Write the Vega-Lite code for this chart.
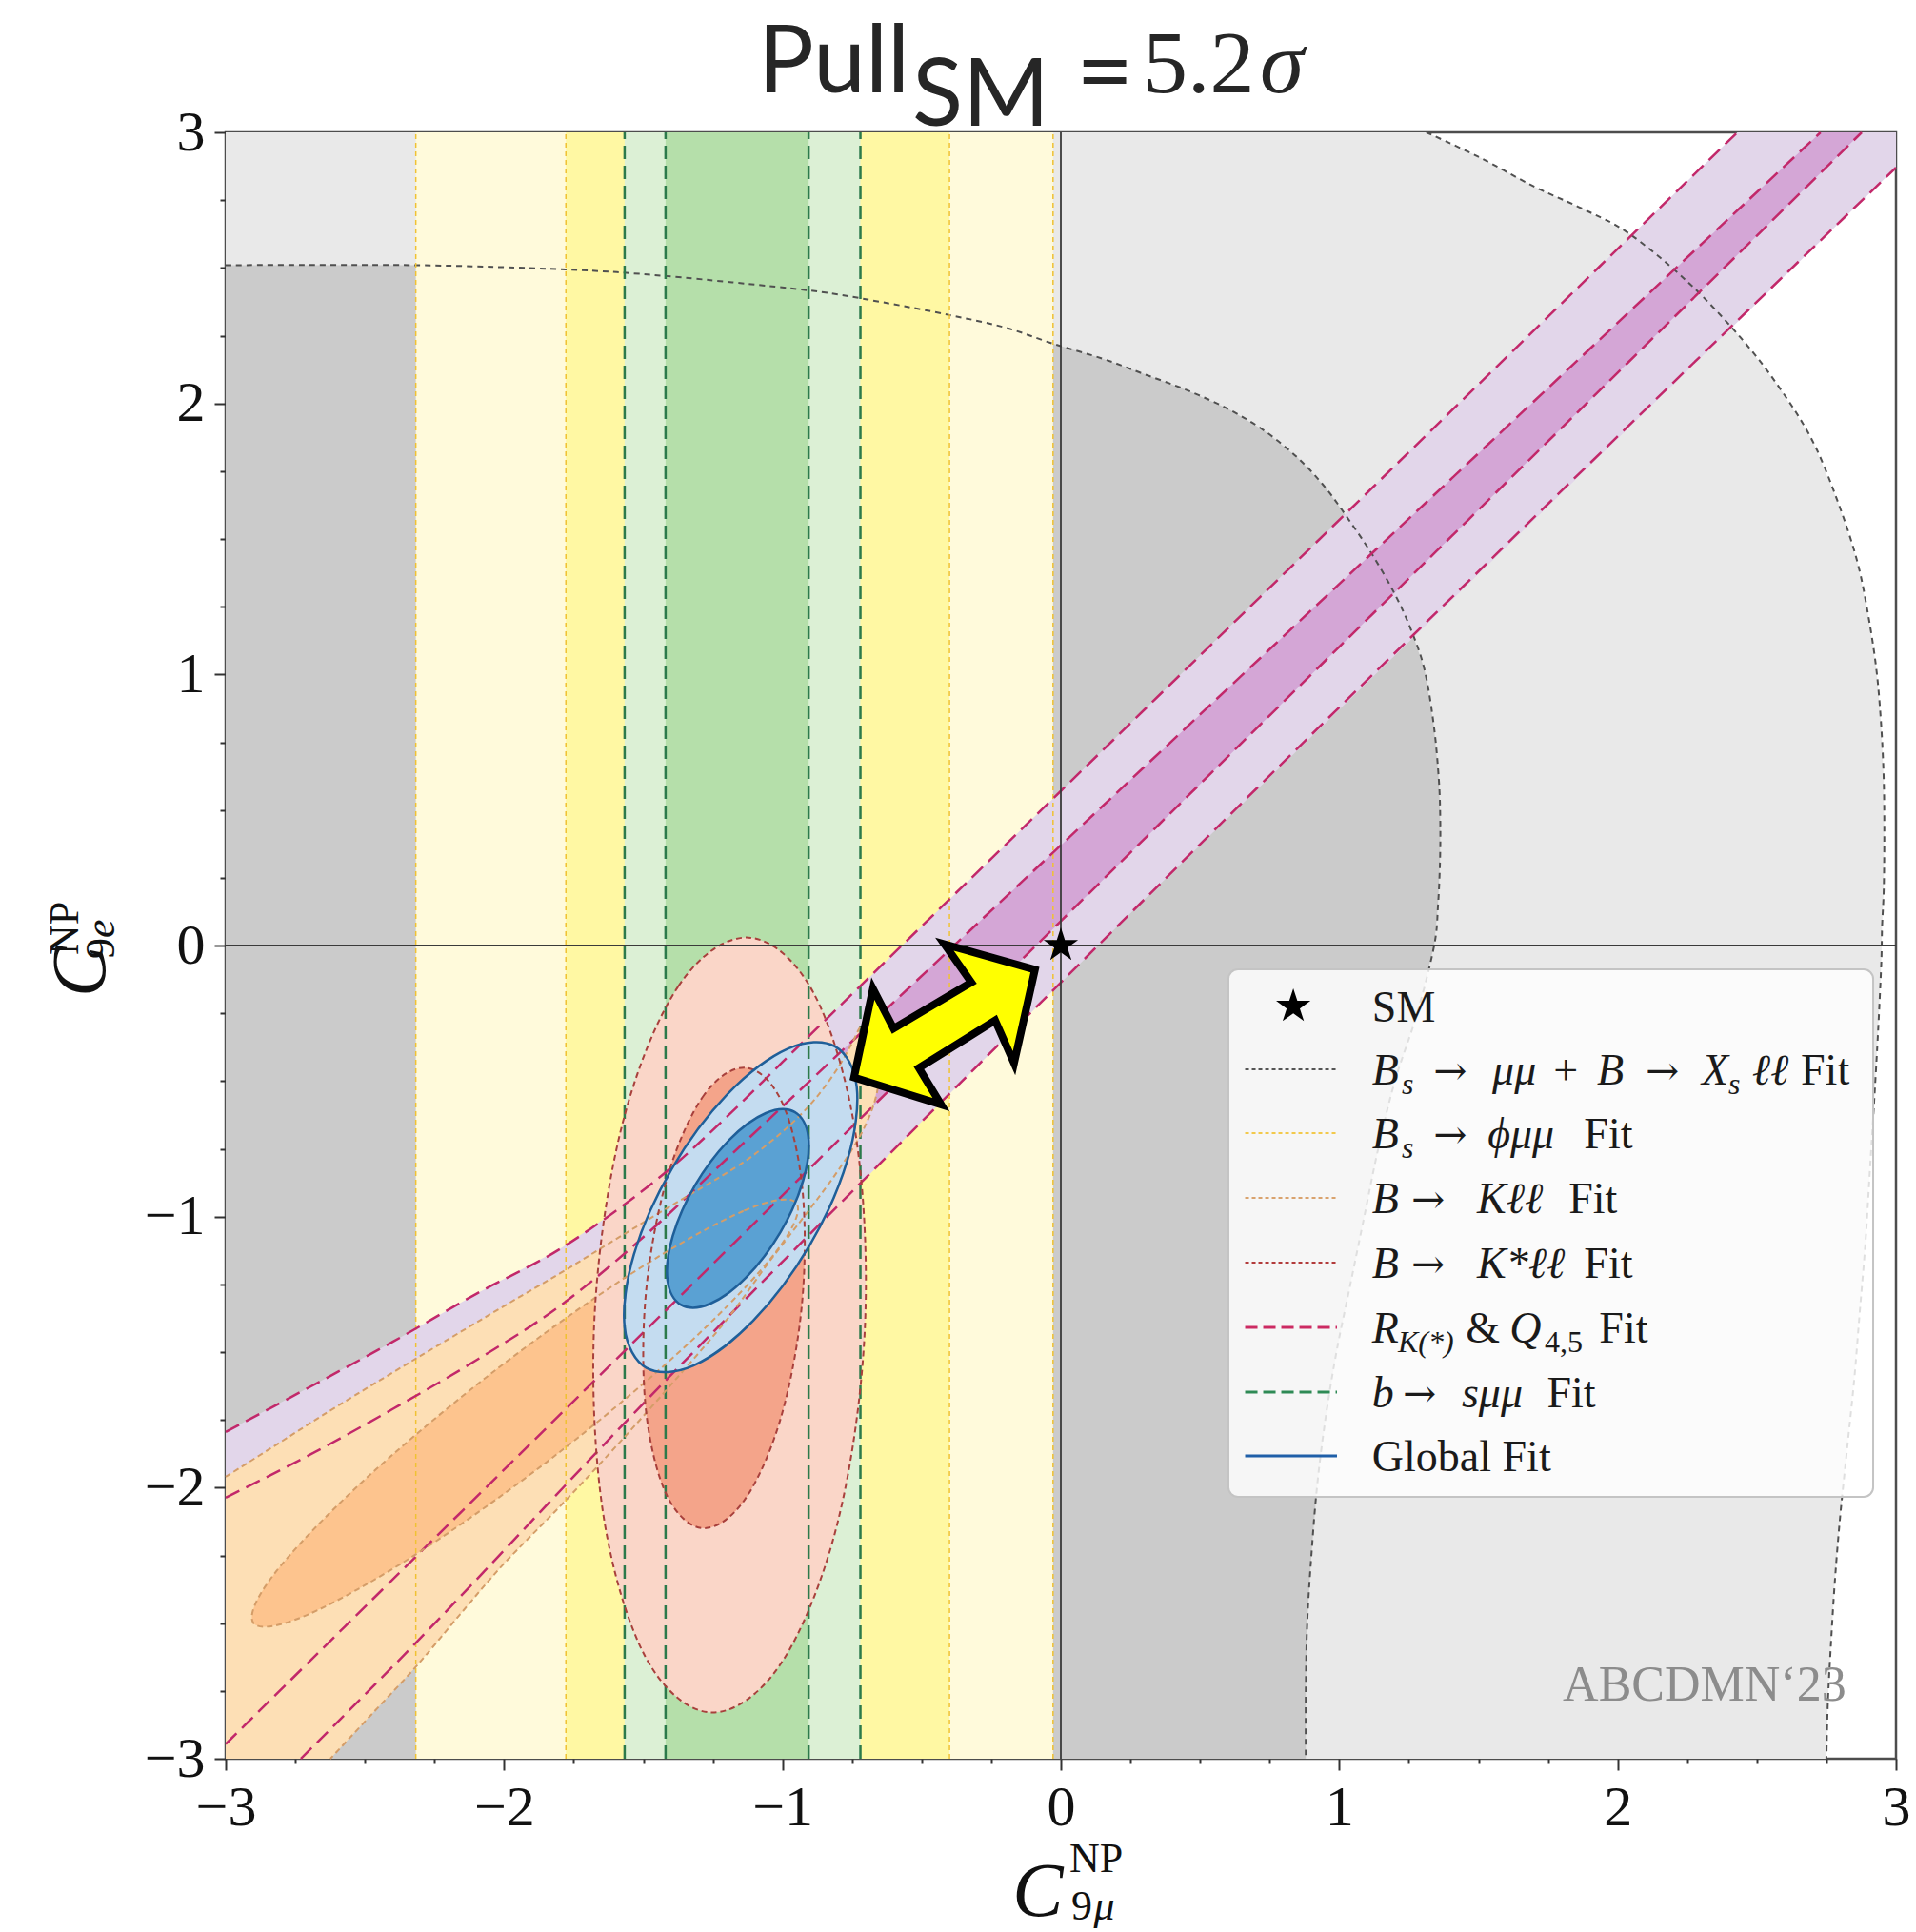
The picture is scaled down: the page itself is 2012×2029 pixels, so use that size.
{
"$schema": "https://vega.github.io/schema/vega-lite/v6.json",
"width": 1754, "height": 1708,
"autosize": "none",
"padding": {"left": 237, "top": 139, "right": 21, "bottom": 182},
"background": "white",
"config": {"view": {"stroke": "#4d4d4d", "strokeWidth": 2.5}},
"datasets": {
"grayOuter": [
{"i":0,"x":-3,"y":3},{"i":1,"x":1.313,"y":3.0},{"i":2,"x":1.5,"y":2.91},{"i":3,"x":1.7,"y":2.8},{"i":4,"x":1.87,"y":2.72},{"i":5,"x":2.039,"y":2.628},{"i":6,"x":2.25,"y":2.45},{"i":7,"x":2.44,"y":2.245},{"i":8,"x":2.58,"y":2.06},{"i":9,"x":2.7,"y":1.862},{"i":10,"x":2.79,"y":1.64},{"i":11,"x":2.86,"y":1.42},{"i":12,"x":2.9,"y":1.22},{"i":13,"x":2.93,"y":1.015},{"i":14,"x":2.947,"y":0.81},{"i":15,"x":2.956,"y":0.61},{"i":16,"x":2.958,"y":0.41},{"i":17,"x":2.956,"y":0.207},{"i":18,"x":2.95,"y":0.07},{"i":19,"x":2.947,"y":-0.07},{"i":20,"x":2.935,"y":-0.33},{"i":21,"x":2.92,"y":-0.6},{"i":22,"x":2.905,"y":-0.85},{"i":23,"x":2.89,"y":-1.1},{"i":24,"x":2.87,"y":-1.35},{"i":25,"x":2.85,"y":-1.6},{"i":26,"x":2.825,"y":-1.85},{"i":27,"x":2.8,"y":-2.1},{"i":28,"x":2.78,"y":-2.35},{"i":29,"x":2.765,"y":-2.6},{"i":30,"x":2.755,"y":-2.8},{"i":31,"x":2.75,"y":-3.0},{"i":32,"x":-3,"y":-3}],
"grayInner": [
{"i":0,"x":-3,"y":2.51},{"i":1,"x":-2.316,"y":2.51},{"i":2,"x":-1.779,"y":2.494},{"i":3,"x":-1.42,"y":2.47},{"i":4,"x":-0.907,"y":2.417},{"i":5,"x":-0.65,"y":2.375},{"i":6,"x":-0.4,"y":2.326},{"i":7,"x":-0.2,"y":2.28},{"i":8,"x":-0.027,"y":2.22},{"i":9,"x":0.15,"y":2.165},{"i":10,"x":0.294,"y":2.11},{"i":11,"x":0.45,"y":2.05},{"i":12,"x":0.6,"y":1.98},{"i":13,"x":0.73,"y":1.9},{"i":14,"x":0.85,"y":1.8},{"i":15,"x":0.95,"y":1.69},{"i":16,"x":1.035,"y":1.57},{"i":17,"x":1.12,"y":1.44},{"i":18,"x":1.2,"y":1.296},{"i":19,"x":1.26,"y":1.16},{"i":20,"x":1.307,"y":1.015},{"i":21,"x":1.34,"y":0.81},{"i":22,"x":1.358,"y":0.61},{"i":23,"x":1.363,"y":0.46},{"i":24,"x":1.362,"y":0.31},{"i":25,"x":1.355,"y":0.15},{"i":26,"x":1.341,"y":0.0},{"i":27,"x":1.28,"y":-0.25},{"i":28,"x":1.2,"y":-0.5},{"i":29,"x":1.14,"y":-0.75},{"i":30,"x":1.09,"y":-1.0},{"i":31,"x":1.04,"y":-1.25},{"i":32,"x":0.99,"y":-1.5},{"i":33,"x":0.95,"y":-1.75},{"i":34,"x":0.92,"y":-2.0},{"i":35,"x":0.9,"y":-2.25},{"i":36,"x":0.885,"y":-2.5},{"i":37,"x":0.88,"y":-2.75},{"i":38,"x":0.88,"y":-3.0},{"i":39,"x":-3,"y":-3}],
"purple2": [
{"i":0,"x":-3.0,"y":-1.795},{"i":1,"x":-2.7,"y":-1.63},{"i":2,"x":-2.4,"y":-1.462},{"i":3,"x":-2.1,"y":-1.285},{"i":4,"x":-1.8,"y":-1.12},{"i":5,"x":-1.6,"y":-0.98},{"i":6,"x":-1.4,"y":-0.82},{"i":7,"x":-1.2,"y":-0.632},{"i":8,"x":-1.0,"y":-0.43},{"i":9,"x":2.43,"y":3.0},{"i":10,"x":3.0,"y":3.0},{"i":11,"x":3.0,"y":2.87},{"i":12,"x":0.3,"y":0.17},{"i":13,"x":-0.5,"y":-0.65},{"i":14,"x":-1.5,"y":-1.69},{"i":15,"x":-2.4,"y":-2.66},{"i":16,"x":-2.73,"y":-3.0},{"i":17,"x":-3.0,"y":-3.0}],
"purple1": [
{"i":0,"x":-3.0,"y":-2.037},{"i":1,"x":-2.7,"y":-1.88},{"i":2,"x":-2.4,"y":-1.71},{"i":3,"x":-2.1,"y":-1.53},{"i":4,"x":-1.8,"y":-1.33},{"i":5,"x":-1.5,"y":-1.076},{"i":6,"x":-1.2,"y":-0.787},{"i":7,"x":2.729,"y":3.0},{"i":8,"x":2.877,"y":3.0},{"i":9,"x":-3.0,"y":-2.946}],
"pl": [
{"l":"A","x":-3.0,"y":-1.795},{"l":"A","x":-2.7,"y":-1.63},{"l":"A","x":-2.4,"y":-1.462},{"l":"A","x":-2.1,"y":-1.285},{"l":"A","x":-1.8,"y":-1.12},{"l":"A","x":-1.6,"y":-0.98},{"l":"A","x":-1.4,"y":-0.82},{"l":"A","x":-1.2,"y":-0.632},{"l":"A","x":-1.0,"y":-0.43},{"l":"A","x":0.0,"y":0.57},{"l":"A","x":2.43,"y":3.0},
{"l":"B","x":-3.0,"y":-2.037},{"l":"B","x":-2.7,"y":-1.88},{"l":"B","x":-2.4,"y":-1.71},{"l":"B","x":-2.1,"y":-1.53},{"l":"B","x":-1.8,"y":-1.33},{"l":"B","x":-1.5,"y":-1.076},{"l":"B","x":-1.2,"y":-0.787},{"l":"B","x":0.0,"y":0.37},{"l":"B","x":2.729,"y":3.0},
{"l":"C","x":-3.0,"y":-2.946},{"l":"C","x":0.0,"y":0.09},{"l":"C","x":2.877,"y":3.0},
{"l":"D","x":-2.73,"y":-3.0},{"l":"D","x":-2.4,"y":-2.66},{"l":"D","x":-1.5,"y":-1.69},{"l":"D","x":-0.5,"y":-0.65},{"l":"D","x":0.3,"y":0.17},{"l":"D","x":3.0,"y":2.87}],
"orange2": [
{"i":0,"x":-3.0,"y":-3.0},{"i":1,"x":-3.0,"y":-1.96},{"i":2,"x":-2.8,"y":-1.83},{"i":3,"x":-2.6,"y":-1.7},{"i":4,"x":-2.31,"y":-1.52},{"i":5,"x":-2.0,"y":-1.33},{"i":6,"x":-1.8,"y":-1.21},{"i":7,"x":-1.625,"y":-1.1},{"i":8,"x":-1.4,"y":-0.96},{"i":9,"x":-1.166,"y":-0.817},{"i":10,"x":-1.05,"y":-0.73},{"i":11,"x":-0.95,"y":-0.64},{"i":12,"x":-0.87,"y":-0.55},{"i":13,"x":-0.8,"y":-0.45},{"i":14,"x":-0.75,"y":-0.36},{"i":15,"x":-0.72,"y":-0.3},{"i":16,"x":-0.69,"y":-0.28},{"i":17,"x":-0.665,"y":-0.32},{"i":18,"x":-0.652,"y":-0.4},{"i":19,"x":-0.65,"y":-0.47},{"i":20,"x":-0.67,"y":-0.58},{"i":21,"x":-0.72,"y":-0.7},{"i":22,"x":-0.8,"y":-0.83},{"i":23,"x":-0.9,"y":-0.97},{"i":24,"x":-1.05,"y":-1.17},{"i":25,"x":-1.2,"y":-1.38},{"i":26,"x":-1.4,"y":-1.62},{"i":27,"x":-1.6,"y":-1.85},{"i":28,"x":-1.8,"y":-2.07},{"i":29,"x":-2.0,"y":-2.28},{"i":30,"x":-2.16,"y":-2.47},{"i":31,"x":-2.316,"y":-2.66},{"i":32,"x":-2.47,"y":-2.83},{"i":33,"x":-2.624,"y":-3.0}],
"orange1": [
{"i":0,"x":-0.9503,"y":-0.9497},{"i":1,"x":-1.1401,"y":-0.9792},{"i":2,"x":-1.54,"y":-1.2085},{"i":3,"x":-2.0433,"y":-1.5763},{"i":4,"x":-2.5148,"y":-1.9839},{"i":5,"x":-2.8283,"y":-2.322},{"i":6,"x":-2.8997,"y":-2.5003},{"i":7,"x":-2.7099,"y":-2.4708},{"i":8,"x":-2.31,"y":-2.2415},{"i":9,"x":-1.8067,"y":-1.8737},{"i":10,"x":-1.3352,"y":-1.4661},{"i":11,"x":-1.0217,"y":-1.128}],
"salmon2": [
{"i":0,"x":-1.1226,"y":0.0294},{"i":1,"x":-1.3743,"y":-0.1507},{"i":2,"x":-1.5768,"y":-0.6655},{"i":3,"x":-1.6755,"y":-1.3771},{"i":4,"x":-1.6442,"y":-2.0949},{"i":5,"x":-1.4911,"y":-2.6265},{"i":6,"x":-1.2574,"y":-2.8294},{"i":7,"x":-1.0057,"y":-2.6493},{"i":8,"x":-0.8032,"y":-2.1345},{"i":9,"x":-0.7045,"y":-1.4229},{"i":10,"x":-0.7358,"y":-0.7051},{"i":11,"x":-0.8889,"y":-0.1735}],
"salmon1": [
{"i":0,"x":-1.1312,"y":-0.4507},{"i":1,"x":-1.2817,"y":-0.5515},{"i":2,"x":-1.4129,"y":-0.8528},{"i":3,"x":-1.4898,"y":-1.274},{"i":4,"x":-1.4917,"y":-1.7022},{"i":5,"x":-1.4181,"y":-2.0225},{"i":6,"x":-1.2888,"y":-2.1493},{"i":7,"x":-1.1383,"y":-2.0485},{"i":8,"x":-1.0071,"y":-1.7472},{"i":9,"x":-0.9302,"y":-1.326},{"i":10,"x":-0.9283,"y":-0.8978},{"i":11,"x":-1.0019,"y":-0.5775}],
"blue2": [
{"i":0,"x":-0.8116,"y":-0.3717},{"i":1,"x":-0.9807,"y":-0.3806},{"i":2,"x":-1.1952,"y":-0.546},{"i":3,"x":-1.3976,"y":-0.8238},{"i":4,"x":-1.5336,"y":-1.1394},{"i":5,"x":-1.5669,"y":-1.4082},{"i":6,"x":-1.4884,"y":-1.5583},{"i":7,"x":-1.3193,"y":-1.5494},{"i":8,"x":-1.1048,"y":-1.384},{"i":9,"x":-0.9024,"y":-1.1062},{"i":10,"x":-0.7664,"y":-0.7906},{"i":11,"x":-0.7331,"y":-0.5218}],
"blue1": [
{"i":0,"x":-0.956,"y":-0.6143},{"i":1,"x":-1.0597,"y":-0.6182},{"i":2,"x":-1.1902,"y":-0.7162},{"i":3,"x":-1.3127,"y":-0.8824},{"i":4,"x":-1.3942,"y":-1.072},{"i":5,"x":-1.4131,"y":-1.2342},{"i":6,"x":-1.364,"y":-1.3257},{"i":7,"x":-1.2603,"y":-1.3218},{"i":8,"x":-1.1298,"y":-1.2238},{"i":9,"x":-1.0073,"y":-1.0576},{"i":10,"x":-0.9258,"y":-0.868},{"i":11,"x":-0.9069,"y":-0.7058}],
"arrow": [
{"i":0,"x":-0.418,"y":0.005},{"i":1,"x":-0.3215,"y":-0.136},{"i":2,"x":-0.601,"y":-0.306},{"i":3,"x":-0.675,"y":-0.159},{"i":4,"x":-0.743,"y":-0.487},{"i":5,"x":-0.43,"y":-0.587},{"i":6,"x":-0.51,"y":-0.452},{"i":7,"x":-0.236,"y":-0.276},{"i":8,"x":-0.168,"y":-0.434},{"i":9,"x":-0.093,"y":-0.089},{"i":10,"x":-0.418,"y":0.005},{"i":11,"x":-0.3215,"y":-0.136}],
"legRm": [
{"x":1.118,"y":-0.281,"t":"SM"},
{"x":1.769,"y":-0.5128,"t":"+"},{"x":2.658,"y":-0.5128,"t":"Fit"},
{"x":1.879,"y":-0.7482,"t":"Fit"},
{"x":1.824,"y":-0.9871,"t":"Fit"},
{"x":1.879,"y":-1.2259,"t":"Fit"},
{"x":1.455,"y":-1.4648,"t":"&"},{"x":1.934,"y":-1.4648,"t":"Fit"},
{"x":1.746,"y":-1.7037,"t":"Fit"},
{"x":1.118,"y":-1.9391,"t":"Global Fit"}],
"legArrow": [
{"x":1.338,"y":-0.5128,"t":"→"},{"x":2.1,"y":-0.5128,"t":"→"},
{"x":1.338,"y":-0.7482,"t":"→"},
{"x":1.259,"y":-0.9871,"t":"→"},
{"x":1.259,"y":-1.2259,"t":"→"},
{"x":1.228,"y":-1.7037,"t":"→"}],
"legIt": [
{"x":1.118,"y":-0.5128,"t":"B"},{"x":1.55,"y":-0.5128,"t":"μμ"},{"x":1.926,"y":-0.5128,"t":"B"},{"x":2.302,"y":-0.5128,"t":"X"},{"x":2.483,"y":-0.5128,"t":"ℓℓ"},
{"x":1.118,"y":-0.7482,"t":"B"},{"x":1.533,"y":-0.7482,"t":"ϕμμ"},
{"x":1.118,"y":-0.9871,"t":"B"},{"x":1.495,"y":-0.9871,"t":"Kℓℓ"},
{"x":1.118,"y":-1.2259,"t":"B"},{"x":1.495,"y":-1.2259,"t":"K*ℓℓ"},
{"x":1.118,"y":-1.4648,"t":"R"},{"x":1.612,"y":-1.4648,"t":"Q"},
{"x":1.118,"y":-1.7037,"t":"b"},{"x":1.44,"y":-1.7037,"t":"sμμ"}],
"legSubIt": [
{"x":1.225,"y":-0.5479,"t":"s"},{"x":2.398,"y":-0.5479,"t":"s"},{"x":1.225,"y":-0.7833,"t":"s"},{"x":1.211,"y":-1.4999,"t":"K(*)"}],
"legSubRm": [{"x":1.738,"y":-1.4999,"t":"4,5"}]
},
"encoding": {
"x": {"field": "x", "type": "quantitative", "scale": {"domain": [-3, 3], "nice": false, "zero": false},
 "axis": {"values": [-3,-2.75,-2.5,-2.25,-2,-1.75,-1.5,-1.25,-1,-0.75,-0.5,-0.25,0,0.25,0.5,0.75,1,1.25,1.5,1.75,2,2.25,2.5,2.75,3],
  "title": null, "grid": false, "domain": false, "labelExpr": "datum.value % 1 === 0 ? format(datum.value, '.0f') : ''",
  "labelFont": "Liberation Serif", "labelFontSize": 60, "labelColor": "#111", "labelFlush": false, "labelOverlap": false, "labelBound": false,
  "labelPadding": 10, "tickColor": "#333", "tickWidth": 2, "tickSize": {"condition": {"test": "datum.value % 1 === 0", "value": 12}, "value": 5}}},
"y": {"field": "y", "type": "quantitative", "scale": {"domain": [-3, 3], "nice": false, "zero": false},
 "axis": {"values": [-3,-2.75,-2.5,-2.25,-2,-1.75,-1.5,-1.25,-1,-0.75,-0.5,-0.25,0,0.25,0.5,0.75,1,1.25,1.5,1.75,2,2.25,2.5,2.75,3],
  "title": null, "grid": false, "domain": false, "labelExpr": "datum.value % 1 === 0 ? format(datum.value, '.0f') : ''",
  "labelFont": "Liberation Serif", "labelFontSize": 60, "labelColor": "#111", "labelFlush": false, "labelOverlap": false, "labelBound": false,
  "labelPadding": 10, "tickColor": "#333", "tickWidth": 2, "tickSize": {"condition": {"test": "datum.value % 1 === 0", "value": 12}, "value": 6}}}
},
"layer": [
{"data": {"name": "grayOuter"}, "mark": {"type": "line", "interpolate": "linear", "filled": true, "fill": "#e9e9e9", "stroke": "transparent"}, "encoding": {"order": {"field": "i", "type": "quantitative"}}},
{"data": {"name": "grayInner"}, "mark": {"type": "line", "interpolate": "linear", "filled": true, "fill": "#cbcbcb", "stroke": "transparent"}, "encoding": {"order": {"field": "i", "type": "quantitative"}}},
{"data": {"values": [{"x": -2.317, "x2": -0.028, "y": -3, "y2": 3}]}, "mark": {"type": "rect", "fill": "#fffadb"}, "encoding": {"x2": {"field": "x2"}, "y2": {"field": "y2"}}},
{"data": {"values": [{"x": -1.778, "x2": -0.4, "y": -3, "y2": 3}]}, "mark": {"type": "rect", "fill": "#fff8a3"}, "encoding": {"x2": {"field": "x2"}, "y2": {"field": "y2"}}},
{"data": {"values": [{"x": -1.567, "x2": -0.72, "y": -3, "y2": 3}]}, "mark": {"type": "rect", "fill": "#dcf0d5"}, "encoding": {"x2": {"field": "x2"}, "y2": {"field": "y2"}}},
{"data": {"values": [{"x": -1.42, "x2": -0.906, "y": -3, "y2": 3}]}, "mark": {"type": "rect", "fill": "#b5dfaa"}, "encoding": {"x2": {"field": "x2"}, "y2": {"field": "y2"}}},
{"data": {"name": "purple2"}, "mark": {"type": "line", "interpolate": "linear", "filled": true, "fill": "#e2d6ea", "stroke": "transparent"}, "encoding": {"order": {"field": "i", "type": "quantitative"}}},
{"data": {"name": "purple1"}, "mark": {"type": "line", "interpolate": "linear", "filled": true, "fill": "#d4a6d6", "stroke": "transparent"}, "encoding": {"order": {"field": "i", "type": "quantitative"}}},
{"data": {"name": "orange2"}, "mark": {"type": "line", "interpolate": "linear", "filled": true, "fill": "#fddfb5", "stroke": "transparent"}, "encoding": {"order": {"field": "i", "type": "quantitative"}}},
{"data": {"name": "orange1"}, "mark": {"type": "line", "interpolate": "cardinal-closed", "filled": true, "fill": "#fdc48e", "stroke": "transparent"}, "encoding": {"order": {"field": "i", "type": "quantitative"}}},
{"data": {"name": "salmon2"}, "mark": {"type": "line", "interpolate": "cardinal-closed", "filled": true, "fill": "#fad6c8", "stroke": "transparent"}, "encoding": {"order": {"field": "i", "type": "quantitative"}}},
{"data": {"name": "salmon1"}, "mark": {"type": "line", "interpolate": "cardinal-closed", "filled": true, "fill": "#f4a48a", "stroke": "transparent"}, "encoding": {"order": {"field": "i", "type": "quantitative"}}},
{"data": {"name": "blue2"}, "mark": {"type": "line", "interpolate": "cardinal-closed", "filled": true, "fill": "#c4dcf0", "stroke": "transparent"}, "encoding": {"order": {"field": "i", "type": "quantitative"}}},
{"data": {"name": "blue1"}, "mark": {"type": "line", "interpolate": "cardinal-closed", "filled": true, "fill": "#5aa1d3", "stroke": "transparent"}, "encoding": {"order": {"field": "i", "type": "quantitative"}}},
{"data": {"name": "grayOuter"}, "transform": [{"filter": "datum.i >= 1 && datum.i <= 31"}], "mark": {"type": "line", "interpolate": "cardinal", "stroke": "#505050", "strokeWidth": 2, "strokeDash": [6,5]}, "encoding": {"order": {"field": "i", "type": "quantitative"}}},
{"data": {"name": "grayInner"}, "transform": [{"filter": "datum.i <= 38"}], "mark": {"type": "line", "interpolate": "cardinal", "stroke": "#505050", "strokeWidth": 2, "strokeDash": [6,5]}, "encoding": {"order": {"field": "i", "type": "quantitative"}}},
{"data": {"values": [{"x": -2.317, "y": -3, "y2": 3}, {"x": -1.778, "y": -3, "y2": 3}, {"x": -0.4, "y": -3, "y2": 3}, {"x": -0.028, "y": -3, "y2": 3}]}, "mark": {"type": "rule", "color": "#f0c233", "strokeWidth": 1.5, "strokeDash": [5,4]}, "encoding": {"y2": {"field": "y2"}}},
{"data": {"values": [{"x": -1.567, "y": -3, "y2": 3}, {"x": -1.42, "y": -3, "y2": 3}, {"x": -0.906, "y": -3, "y2": 3}, {"x": -0.72, "y": -3, "y2": 3}]}, "mark": {"type": "rule", "color": "#2c7a4b", "strokeWidth": 2.5, "strokeDash": [14,7]}, "encoding": {"y2": {"field": "y2"}}},
{"data": {"name": "pl"}, "transform": [{"filter": "datum.l === 'A'"}], "mark": {"type": "line", "interpolate": "monotone", "stroke": "#c2286a", "strokeWidth": 2.5, "strokeDash": [16,8]}, "encoding": {}},
{"data": {"name": "pl"}, "transform": [{"filter": "datum.l === 'B'"}], "mark": {"type": "line", "interpolate": "monotone", "stroke": "#c2286a", "strokeWidth": 2.5, "strokeDash": [16,8]}, "encoding": {}},
{"data": {"name": "pl"}, "transform": [{"filter": "datum.l === 'C'"}], "mark": {"type": "line", "interpolate": "monotone", "stroke": "#c2286a", "strokeWidth": 2.5, "strokeDash": [16,8]}, "encoding": {}},
{"data": {"name": "pl"}, "transform": [{"filter": "datum.l === 'D'"}], "mark": {"type": "line", "interpolate": "monotone", "stroke": "#c2286a", "strokeWidth": 2.5, "strokeDash": [16,8]}, "encoding": {}},
{"data": {"name": "orange2"}, "transform": [{"filter": "datum.i >= 1"}], "mark": {"type": "line", "interpolate": "cardinal", "stroke": "#d49d68", "strokeWidth": 2, "strokeDash": [6,4]}, "encoding": {"order": {"field": "i", "type": "quantitative"}}},
{"data": {"name": "orange1"}, "mark": {"type": "line", "interpolate": "cardinal-closed", "stroke": "#d49d68", "strokeWidth": 2, "strokeDash": [6,4]}, "encoding": {"order": {"field": "i", "type": "quantitative"}}},
{"data": {"name": "salmon2"}, "mark": {"type": "line", "interpolate": "cardinal-closed", "stroke": "#a8403c", "strokeWidth": 2, "strokeDash": [6,4]}, "encoding": {"order": {"field": "i", "type": "quantitative"}}},
{"data": {"name": "salmon1"}, "mark": {"type": "line", "interpolate": "cardinal-closed", "stroke": "#a8403c", "strokeWidth": 2, "strokeDash": [6,4]}, "encoding": {"order": {"field": "i", "type": "quantitative"}}},
{"data": {"name": "blue2"}, "mark": {"type": "line", "interpolate": "cardinal-closed", "stroke": "#1f5f99", "strokeWidth": 2.5}, "encoding": {"order": {"field": "i", "type": "quantitative"}}},
{"data": {"name": "blue1"}, "mark": {"type": "line", "interpolate": "cardinal-closed", "stroke": "#1f5f99", "strokeWidth": 2.5}, "encoding": {"order": {"field": "i", "type": "quantitative"}}},
{"data": {"values": [{"x": 0, "y": -3, "y2": 3}]}, "mark": {"type": "rule", "color": "#3a3a3a", "strokeWidth": 1.8}, "encoding": {"y2": {"field": "y2"}}},
{"data": {"values": [{"x": -3, "x2": 3, "y": 0}]}, "mark": {"type": "rule", "color": "#3a3a3a", "strokeWidth": 1.8}, "encoding": {"x2": {"field": "x2"}}},
{"data": {"name": "arrow"}, "mark": {"type": "line", "interpolate": "linear", "filled": true, "fill": "#ffff00", "stroke": "#000000", "strokeWidth": 8, "strokeJoin": "miter", "strokeMiterLimit": 10}, "encoding": {"order": {"field": "i", "type": "quantitative"}}},
{"data": {"values": [{"x": 1.803, "y": -2.786, "t": "ABCDMN‘23"}]}, "mark": {"type": "text", "align": "left", "baseline": "alphabetic", "font": "Liberation Serif", "fontSize": 52, "color": "#8c8c8c"}, "encoding": {"text": {"field": "t", "type": "nominal"}}},
{"data": {"values": [{"x": -1.088, "y": 3.1475, "t": "Pull"}]}, "mark": {"type": "text", "align": "left", "baseline": "alphabetic", "font": "Lato", "fontSize": 98, "color": "#262626"}, "encoding": {"text": {"field": "t", "type": "nominal"}}},
{"data": {"values": [{"x": 0.055, "y": 3.098, "t": "="}]}, "mark": {"type": "text", "align": "left", "baseline": "alphabetic", "font": "Lato", "fontSize": 104, "color": "#262626"}, "encoding": {"text": {"field": "t", "type": "nominal"}}},
{"data": {"values": [{"x": -0.534, "y": 3.0246, "t": "SM"}]}, "mark": {"type": "text", "align": "left", "baseline": "alphabetic", "font": "Lato", "fontSize": 98, "color": "#262626"}, "encoding": {"text": {"field": "t", "type": "nominal"}}},
{"data": {"values": [{"x": 0.294, "y": 3.1475, "t": "5.2"}]}, "mark": {"type": "text", "align": "left", "baseline": "alphabetic", "font": "Liberation Serif", "fontSize": 94, "color": "#262626"}, "encoding": {"text": {"field": "t", "type": "nominal"}}},
{"data": {"values": [{"x": 0.715, "y": 3.1475, "t": "σ"}]}, "mark": {"type": "text", "align": "left", "baseline": "alphabetic", "font": "Liberation Serif", "fontStyle": "italic", "fontSize": 94, "color": "#262626"}, "encoding": {"text": {"field": "t", "type": "nominal"}}},
{"data": {"values": [{"x": -0.174, "y": -3.58, "t": "C"}]}, "mark": {"type": "text", "align": "left", "baseline": "alphabetic", "font": "Liberation Serif", "fontStyle": "italic", "fontSize": 80, "color": "#111"}, "encoding": {"text": {"field": "t", "type": "nominal"}}},
{"data": {"values": [{"x": 0.031, "y": -3.418, "t": "NP"}, {"x": 0.038, "y": -3.594, "t": "9"}]}, "mark": {"type": "text", "align": "left", "baseline": "alphabetic", "font": "Liberation Serif", "fontSize": 44, "color": "#111"}, "encoding": {"text": {"field": "t", "type": "nominal"}}},
{"data": {"values": [{"x": 0.118, "y": -3.594, "t": "μ"}]}, "mark": {"type": "text", "align": "left", "baseline": "alphabetic", "font": "Liberation Serif", "fontStyle": "italic", "fontSize": 44, "color": "#111"}, "encoding": {"text": {"field": "t", "type": "nominal"}}},
{"data": {"values": [{"x": -3.434, "y": -0.19, "t": "C"}]}, "mark": {"type": "text", "align": "left", "baseline": "alphabetic", "angle": 270, "font": "Liberation Serif", "fontStyle": "italic", "fontSize": 80, "color": "#111"}, "encoding": {"text": {"field": "t", "type": "nominal"}}},
{"data": {"values": [{"x": -3.53, "y": -0.035, "t": "NP"}, {"x": -3.4, "y": -0.049, "t": "9"}]}, "mark": {"type": "text", "align": "left", "baseline": "alphabetic", "angle": 270, "font": "Liberation Serif", "fontSize": 44, "color": "#111"}, "encoding": {"text": {"field": "t", "type": "nominal"}}},
{"data": {"values": [{"x": -3.4, "y": 0.028, "t": "e"}]}, "mark": {"type": "text", "align": "left", "baseline": "alphabetic", "angle": 270, "font": "Liberation Serif", "fontStyle": "italic", "fontSize": 44, "color": "#111"}, "encoding": {"text": {"field": "t", "type": "nominal"}}},
{"data": {"values": [{"x": 0.602, "x2": 2.918, "y": -0.088, "y2": -2.034}]}, "mark": {"type": "rect", "cornerRadius": 10, "fill": "#ffffff", "fillOpacity": 0.82, "stroke": "#c4c4c4", "strokeWidth": 2}, "encoding": {"x2": {"field": "x2"}, "y2": {"field": "y2"}}},
{"data": {"values": [{"x": 0.662, "x2": 0.992, "y": -0.4566}]}, "mark": {"type": "rule", "color": "#555555", "strokeWidth": 2, "strokeDash": [4,3]}, "encoding": {"x2": {"field": "x2"}}},
{"data": {"values": [{"x": 0.662, "x2": 0.992, "y": -0.692}]}, "mark": {"type": "rule", "color": "#f2c94c", "strokeWidth": 2, "strokeDash": [4,3]}, "encoding": {"x2": {"field": "x2"}}},
{"data": {"values": [{"x": 0.662, "x2": 0.992, "y": -0.9309}]}, "mark": {"type": "rule", "color": "#d9a36e", "strokeWidth": 2, "strokeDash": [4,3]}, "encoding": {"x2": {"field": "x2"}}},
{"data": {"values": [{"x": 0.662, "x2": 0.992, "y": -1.1697}]}, "mark": {"type": "rule", "color": "#b23b3b", "strokeWidth": 2, "strokeDash": [4,3]}, "encoding": {"x2": {"field": "x2"}}},
{"data": {"values": [{"x": 0.662, "x2": 0.992, "y": -1.4086}]}, "mark": {"type": "rule", "color": "#cc2a62", "strokeWidth": 3, "strokeDash": [13,6]}, "encoding": {"x2": {"field": "x2"}}},
{"data": {"values": [{"x": 0.662, "x2": 0.992, "y": -1.6475}]}, "mark": {"type": "rule", "color": "#2e8a55", "strokeWidth": 3, "strokeDash": [13,6]}, "encoding": {"x2": {"field": "x2"}}},
{"data": {"values": [{"x": 0.662, "x2": 0.992, "y": -1.8829}]}, "mark": {"type": "rule", "color": "#1f5fa8", "strokeWidth": 3}, "encoding": {"x2": {"field": "x2"}}},
{"data": {"name": "legRm"}, "mark": {"type": "text", "align": "left", "baseline": "alphabetic", "font": "Liberation Serif", "fontSize": 46, "color": "#1a1a1a"}, "encoding": {"text": {"field": "t", "type": "nominal"}}},
{"data": {"name": "legArrow"}, "mark": {"type": "text", "align": "left", "baseline": "alphabetic", "font": "DejaVu Serif", "fontSize": 42, "color": "#1a1a1a"}, "encoding": {"text": {"field": "t", "type": "nominal"}}},
{"data": {"name": "legIt"}, "mark": {"type": "text", "align": "left", "baseline": "alphabetic", "font": "Liberation Serif", "fontStyle": "italic", "fontSize": 46, "color": "#1a1a1a"}, "encoding": {"text": {"field": "t", "type": "nominal"}}},
{"data": {"name": "legSubIt"}, "mark": {"type": "text", "align": "left", "baseline": "alphabetic", "font": "Liberation Serif", "fontStyle": "italic", "fontSize": 32, "color": "#1a1a1a"}, "encoding": {"text": {"field": "t", "type": "nominal"}}},
{"data": {"name": "legSubRm"}, "mark": {"type": "text", "align": "left", "baseline": "alphabetic", "font": "Liberation Serif", "fontSize": 32, "color": "#1a1a1a"}, "encoding": {"text": {"field": "t", "type": "nominal"}}},
{"data": {"values": [{"x": 0, "y": 0}, {"x": 0.835, "y": -0.2248}]}, "mark": {"type": "point", "shape": "M0,-1L0.2245,-0.309L0.9511,-0.309L0.3633,0.118L0.5878,0.809L0,0.382L-0.5878,0.809L-0.3633,0.118L-0.9511,-0.309L-0.2245,-0.309Z", "filled": true, "color": "#000000", "size": 1444, "opacity": 1}, "encoding": {"opacity": {"value": 1}}}
]
}
